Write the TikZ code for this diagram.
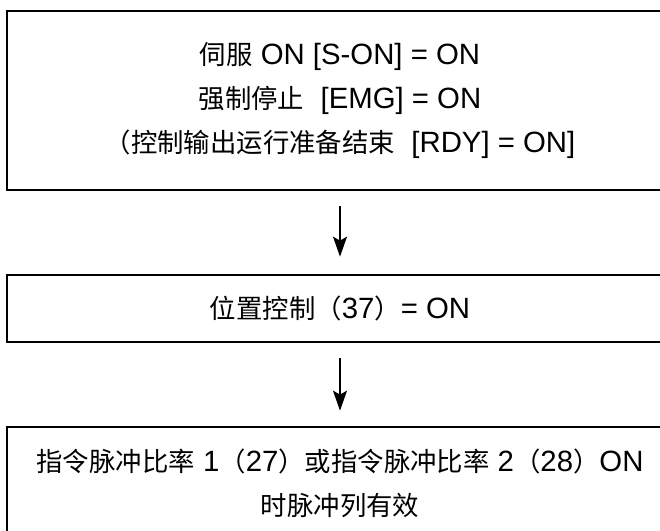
\documentclass[tikz,border=0pt]{standalone}
\usepackage{fontspec}
\setmainfont{Liberation Sans}
\newfontfamily\cjk[Scale=0.9]{Noto Sans CJK SC}
\usetikzlibrary{arrows.meta}

\tikzset{
  stepbox/.style={draw, line width=2pt, minimum width=499.5pt, align=center,
    font=\fontsize{22}{33}\selectfont},
  flow/.style={line width=1.4pt, -{Stealth[length=15pt, width=10.5pt, inset=3pt]},
    shorten <=11.25pt}
}

\begin{document}
\begin{tikzpicture}[x=0.75pt, y=-0.75pt]
  \useasboundingbox (0,0) rectangle (660,531);

  % boxes
  \node[stepbox, minimum height=134.25pt] (servo) at (340,100.5)
    {{\cjk 伺服} ON [S-ON] = ON\\
     {\cjk 强制停止}\ \ [EMG] = ON\\
     {\cjk （控制输出运行准备结束}\ \ [RDY] = ON]};
  \node[stepbox, minimum height=50.25pt] (pos) at (340,308.5)
    {{\cjk 位置控制（}37{\cjk ）}= ON};
  \node[stepbox, minimum height=84pt] (pulse) at (340,483)
    {{\cjk 指令脉冲比率} 1{\cjk （}27{\cjk ）或指令脉冲比率} 2{\cjk （}28{\cjk ）}ON\\
     {\cjk 时脉冲列有效}};

  % arrows
  \draw[flow, shorten >=12.75pt] (servo) -- (pos);
  \draw[flow, shorten >=11.25pt] (pos) -- (pulse);
\end{tikzpicture}
\end{document}
